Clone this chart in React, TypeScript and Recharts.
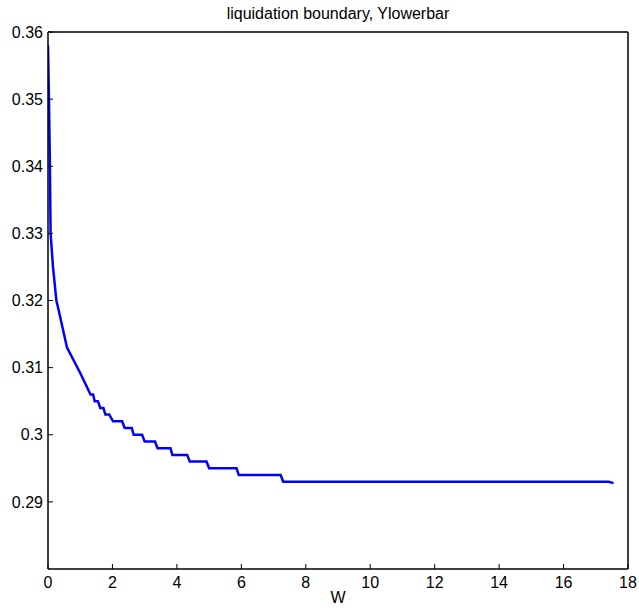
import { Line, LineChart, XAxis, YAxis } from "recharts";

// W values along the boundary curve
const wValues = [
  0, 0.03, 0.06, 0.08, 0.155, 0.26, 0.31, 0.59, 1.0, 1.32, 1.4, 1.45, 1.55,
  1.62, 1.72, 1.78, 1.9, 2.02, 2.3, 2.38, 2.6, 2.66, 2.92, 3.0, 3.32, 3.4,
  3.8, 3.86, 4.32, 4.4, 4.92, 5.0, 5.85, 5.92, 7.22, 7.3, 17.4, 17.55,
];

// Ylowerbar at each W
const yLowerBar = [
  0.358, 0.35, 0.34, 0.33, 0.325, 0.32, 0.319, 0.313, 0.3092, 0.306, 0.306,
  0.305, 0.305, 0.304, 0.304, 0.303, 0.303, 0.302, 0.302, 0.301, 0.301, 0.3,
  0.3, 0.299, 0.299, 0.298, 0.298, 0.297, 0.297, 0.296, 0.296, 0.295, 0.295,
  0.294, 0.294, 0.293, 0.293, 0.2928,
];

const xTicks = [0, 2, 4, 6, 8, 10, 12, 14, 16, 18];
const yTicks = [0.29, 0.3, 0.31, 0.32, 0.33, 0.34, 0.35, 0.36];

const data = wValues.map((w, i) => ({ w, y: yLowerBar[i] }));

const font = "'Liberation Sans', Arial, Helvetica, sans-serif";
const tickStyle = { fontSize: 16, fill: "#000", fontFamily: font };

export default function App() {
  return (
    <div
      style={{
        position: "absolute",
        left: 0,
        top: 0,
        width: 639,
        height: 610,
        background: "#fff",
      }}
    >
      <div
        style={{
          position: "absolute",
          left: 48,
          width: 580,
          top: 6,
          textAlign: "center",
          fontFamily: font,
          fontSize: 16,
          lineHeight: "16px",
          color: "#000",
        }}
      >
        liquidation boundary, Ylowerbar
      </div>
      <LineChart
        data={data}
        height={610}
        margin={{ top: 30, right: 9, bottom: 0, left: 0 }}
        width={639}
      >
        <XAxis
          allowDataOverflow
          axisLine={{ stroke: "#000", strokeWidth: 1.5 }}
          dataKey="w"
          domain={[0, 18]}
          height={41}
          interval={0}
          label={{
            value: "W",
            position: "insideBottom",
            offset: 7,
            style: { fontSize: 16, fill: "#000", fontFamily: font },
          }}
          tick={tickStyle}
          tickLine={{ stroke: "#000" }}
          tickMargin={13}
          tickSize={-5}
          ticks={xTicks}
          type="number"
        />
        <XAxis
          allowDataOverflow
          axisLine={{ stroke: "#000", strokeWidth: 1.5 }}
          dataKey="w"
          domain={[0, 18]}
          height={2}
          interval={0}
          orientation="top"
          tick={false}
          tickLine={{ stroke: "#000" }}
          tickSize={-5}
          ticks={xTicks}
          type="number"
          xAxisId="top"
        />
        <YAxis
          allowDataOverflow
          axisLine={{ stroke: "#000", strokeWidth: 1.5 }}
          domain={[0.28, 0.36]}
          interval={0}
          tick={tickStyle}
          tickLine={{ stroke: "#000" }}
          tickMargin={10}
          tickSize={-5}
          ticks={yTicks}
          type="number"
          width={48}
        />
        <YAxis
          allowDataOverflow
          axisLine={{ stroke: "#000", strokeWidth: 1.5 }}
          domain={[0.28, 0.36]}
          interval={0}
          orientation="right"
          tick={false}
          tickLine={{ stroke: "#000" }}
          tickSize={-5}
          ticks={yTicks}
          type="number"
          width={2}
          yAxisId="right"
        />
        <Line
          dataKey="y"
          dot={false}
          isAnimationActive={false}
          stroke="#0000ff"
          strokeWidth={2.5}
          type="linear"
        />
      </LineChart>
    </div>
  );
}
